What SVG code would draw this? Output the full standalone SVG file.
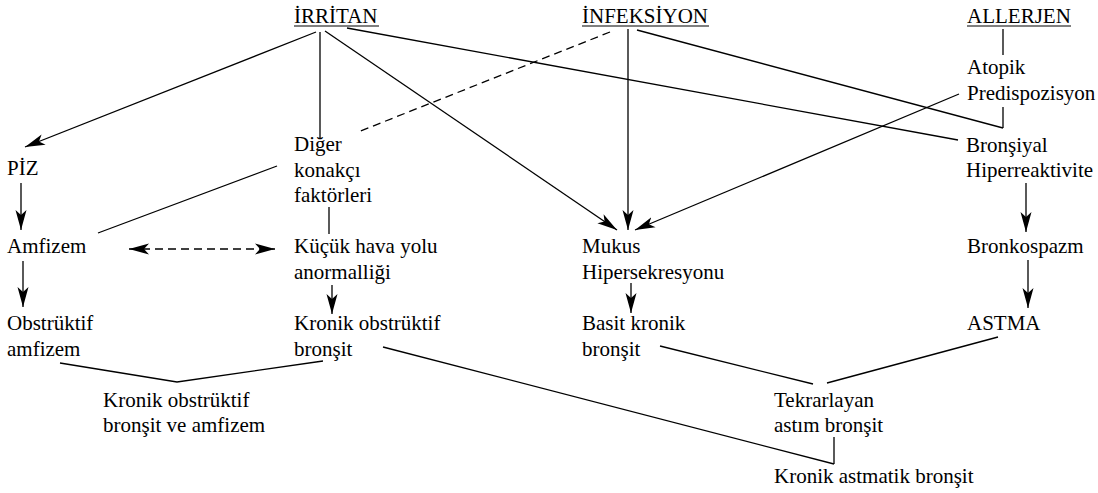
<svg xmlns="http://www.w3.org/2000/svg" width="1098" height="493" viewBox="0 0 1098 493">
<style>
text{font-family:"Liberation Serif","Times New Roman",serif;font-size:21px;fill:#000}
.c{fill:none;stroke:#000;stroke-width:1.3}
.d{stroke-dasharray:8,5}
.u{stroke:#000;stroke-width:1.2}
</style>
<defs>
<marker id="ah" markerUnits="userSpaceOnUse" markerWidth="22" markerHeight="14" viewBox="0 0 22 14" refX="20" refY="7" orient="auto-start-reverse">
<path d="M0,1.5 L20,7 L0,12.5 L5,7 z" fill="#000"/>
</marker>
</defs>
<rect width="1098" height="493" fill="#fff"/>
<g id="connectors">
<path class="c" d="M316,32 L25,147" marker-end="url(#ah)"/>
<path class="c" d="M320,32 L320,138"/>
<path class="c" d="M325,31 L617,230" marker-end="url(#ah)"/>
<path class="c" d="M347,28 L958,140"/>
<path class="c" d="M637,30 L1003,128"/>
<path class="c" d="M1003,29 L1003,55"/>
<path class="c" d="M1003,107 L1003,128"/>
<path class="c" d="M959,94 L635,230" marker-end="url(#ah)"/>
<path class="c" d="M628,29 L628,230" marker-end="url(#ah)"/>
<path class="c d" d="M610,32 L358,132"/>
<path class="c" d="M277,166 L98,233"/>
<path class="c" d="M329,207 L329,234"/>
<path class="c" d="M21,183 L21,230" marker-end="url(#ah)"/>
<path class="c d" d="M129,249 L275,249" marker-start="url(#ah)" marker-end="url(#ah)"/>
<path class="c" d="M23,261 L23,307" marker-end="url(#ah)"/>
<path class="c" d="M332,285 L332,314" marker-end="url(#ah)"/>
<path class="c" d="M631,283 L631,313" marker-end="url(#ah)"/>
<path class="c" d="M1026,183 L1026,232" marker-end="url(#ah)"/>
<path class="c" d="M1028,260 L1028,308" marker-end="url(#ah)"/>
<path class="c" d="M60,363 L177,382 L323,361"/>
<path class="c" d="M383,347 L834,464"/>
<path class="c" d="M834,437 L834,464"/>
<path class="c" d="M660,346 L813,384"/>
<path class="c" d="M998,337 L827,383"/>
</g>
<g id="irritan"><text x="294" y="23">İRRİTAN</text><line class="u" x1="294" y1="26" x2="379" y2="26"/></g>
<g id="infeksiyon"><text x="582" y="23">İNFEKSİYON</text><line class="u" x1="582" y1="26" x2="709" y2="26"/></g>
<g id="allerjen"><text x="967" y="23">ALLERJEN</text><line class="u" x1="967" y1="26" x2="1071" y2="26"/></g>
<g id="atopik"><text x="967" y="74">Atopik</text><text x="967" y="99.5">Predispozisyon</text></g>
<g id="bronsiyal"><text x="966" y="151.5">Bronşiyal</text><text x="966" y="177">Hiperreaktivite</text></g>
<g id="bronkospazm"><text x="967" y="252.5">Bronkospazm</text></g>
<g id="astma"><text x="967" y="330">ASTMA</text></g>
<g id="tekrarlayan"><text x="774" y="407">Tekrarlayan</text><text x="774" y="432">astım bronşit</text></g>
<g id="kronik-astmatik"><text x="774" y="483">Kronik astmatik bronşit</text></g>
<g id="piz"><text x="7" y="175">PİZ</text></g>
<g id="amfizem"><text x="7" y="253">Amfizem</text></g>
<g id="obstruktif-amfizem"><text x="7" y="330">Obstrüktif</text><text x="7" y="355.5">amfizem</text></g>
<g id="kobva"><text x="103" y="407">Kronik obstrüktif</text><text x="103" y="432">bronşit ve amfizem</text></g>
<g id="diger"><text x="294" y="151">Diğer</text><text x="294" y="176.5">konakçı</text><text x="294" y="202">faktörleri</text></g>
<g id="kucuk"><text x="294" y="253">Küçük hava yolu</text><text x="294" y="278.5">anormalliği</text></g>
<g id="kob"><text x="294" y="330">Kronik obstrüktif</text><text x="294" y="355.5">bronşit</text></g>
<g id="mukus"><text x="582" y="253">Mukus</text><text x="582" y="278.5">Hipersekresyonu</text></g>
<g id="basit"><text x="582" y="330">Basit kronik</text><text x="582" y="355.5">bronşit</text></g>
</svg>
